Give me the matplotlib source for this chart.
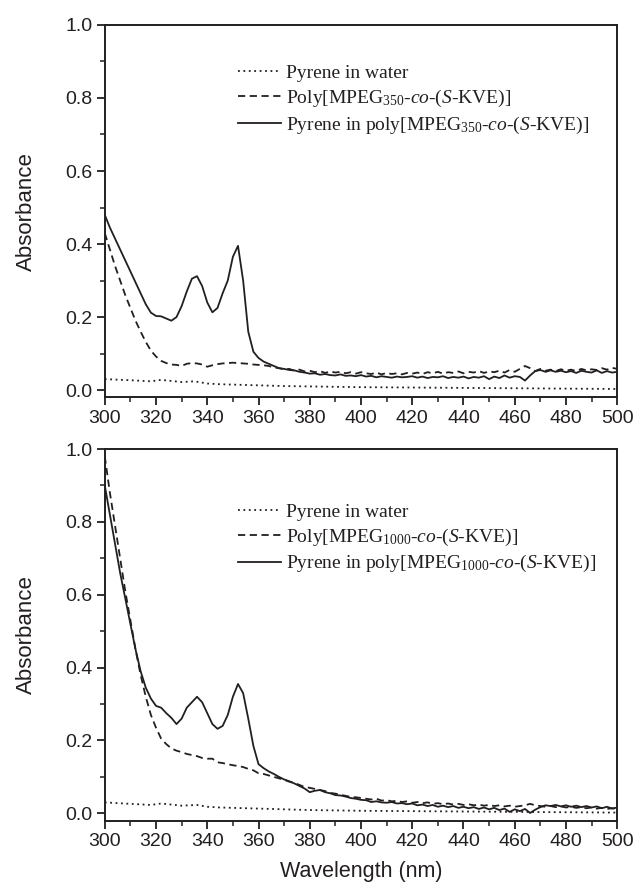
import numpy as np
import matplotlib
matplotlib.use('Agg')
import matplotlib.pyplot as plt
from matplotlib.ticker import MultipleLocator

plt.rcParams['font.family'] = 'Liberation Sans'
plt.rcParams['mathtext.fontset'] = 'custom'
plt.rcParams['mathtext.rm'] = 'Liberation Serif'
plt.rcParams['mathtext.it'] = 'Liberation Serif:italic'

# wavelength grid of the spectra (nm)
wl = np.arange(300, 501, 2)

# --- top panel: MPEG350 ---
top_poly = [
    0.430, 0.385, 0.340, 0.300, 0.260, 0.225, 0.190, 0.160, 0.132, 0.108,
    0.092, 0.080, 0.074, 0.070, 0.069, 0.066, 0.072, 0.074, 0.073, 0.070,
    0.064, 0.068, 0.071, 0.073, 0.074, 0.075, 0.074, 0.073, 0.072, 0.070,
    0.069, 0.068, 0.066, 0.062, 0.060, 0.057, 0.058, 0.053, 0.056, 0.051,
    0.053, 0.049, 0.052, 0.047, 0.051, 0.048, 0.050, 0.046, 0.049, 0.045,
    0.049, 0.046, 0.044, 0.048, 0.043, 0.047, 0.044, 0.046, 0.043, 0.047,
    0.045, 0.048, 0.044, 0.049, 0.046, 0.050, 0.045, 0.049, 0.047, 0.051,
    0.046, 0.050, 0.048, 0.052, 0.047, 0.051, 0.049, 0.053, 0.048, 0.055,
    0.050, 0.058, 0.066, 0.060, 0.052, 0.058, 0.053, 0.056, 0.052, 0.057,
    0.053, 0.056, 0.052, 0.058, 0.054, 0.057, 0.055, 0.060, 0.056, 0.061,
    0.058]
top_pyr_poly = [
    0.480, 0.445, 0.415, 0.385, 0.355, 0.325, 0.295, 0.265, 0.235, 0.212,
    0.203, 0.202, 0.196, 0.190, 0.200, 0.230, 0.270, 0.305, 0.312, 0.285,
    0.240, 0.213, 0.225, 0.265, 0.300, 0.365, 0.395, 0.300, 0.160, 0.105,
    0.088, 0.078, 0.072, 0.066, 0.060, 0.058, 0.055, 0.054, 0.050, 0.048,
    0.045, 0.046, 0.042, 0.044, 0.041, 0.040, 0.043, 0.039, 0.040, 0.038,
    0.041, 0.037, 0.039, 0.035, 0.038, 0.036, 0.034, 0.037, 0.035, 0.036,
    0.038, 0.034, 0.037, 0.033, 0.036, 0.035, 0.038, 0.033, 0.036, 0.034,
    0.037, 0.032, 0.036, 0.034, 0.038, 0.030, 0.037, 0.033, 0.040, 0.034,
    0.038, 0.036, 0.026, 0.040, 0.052, 0.055, 0.050, 0.054, 0.050, 0.053,
    0.049, 0.052, 0.047, 0.053, 0.050, 0.048, 0.054, 0.047, 0.052, 0.048,
    0.050]
top_water_wl = [300, 310, 318, 322, 326, 330, 335, 340, 345, 350, 360, 370,
                380, 400, 420, 440, 460, 480, 500]
top_water = [0.030, 0.027, 0.024, 0.028, 0.025, 0.022, 0.024, 0.018, 0.016,
             0.015, 0.013, 0.011, 0.010, 0.008, 0.007, 0.006, 0.005, 0.004, 0.003]

# --- bottom panel: MPEG1000 ---
bot_poly = [
    0.980, 0.880, 0.790, 0.700, 0.610, 0.530, 0.450, 0.380, 0.320, 0.270,
    0.235, 0.205, 0.190, 0.178, 0.172, 0.168, 0.163, 0.160, 0.157, 0.152,
    0.150, 0.150, 0.140, 0.138, 0.135, 0.132, 0.130, 0.127, 0.122, 0.118,
    0.110, 0.108, 0.104, 0.100, 0.096, 0.092, 0.087, 0.083, 0.078, 0.072,
    0.070, 0.067, 0.064, 0.061, 0.056, 0.054, 0.051, 0.048, 0.045, 0.044,
    0.042, 0.040, 0.038, 0.040, 0.035, 0.036, 0.033, 0.034, 0.031, 0.033,
    0.029, 0.031, 0.028, 0.030, 0.026, 0.028, 0.025, 0.027, 0.024, 0.026,
    0.023, 0.025, 0.022, 0.024, 0.021, 0.023, 0.020, 0.022, 0.019, 0.021,
    0.018, 0.020, 0.022, 0.026, 0.022, 0.020, 0.018, 0.020, 0.017, 0.019,
    0.016, 0.018, 0.015, 0.017, 0.014, 0.016, 0.013, 0.015, 0.012, 0.014,
    0.012]
bot_pyr_poly = [
    0.900, 0.820, 0.740, 0.660, 0.590, 0.520, 0.450, 0.390, 0.345, 0.315,
    0.295, 0.290, 0.275, 0.262, 0.245, 0.260, 0.290, 0.305, 0.320, 0.305,
    0.275, 0.245, 0.232, 0.240, 0.270, 0.320, 0.355, 0.330, 0.260, 0.185,
    0.135, 0.124, 0.115, 0.108, 0.100, 0.093, 0.088, 0.082, 0.075, 0.068,
    0.058, 0.062, 0.064, 0.058, 0.055, 0.050, 0.049, 0.046, 0.042, 0.040,
    0.037, 0.036, 0.031, 0.033, 0.030, 0.029, 0.031, 0.027, 0.028, 0.025,
    0.027, 0.022, 0.024, 0.020, 0.023, 0.018, 0.021, 0.017, 0.020, 0.015,
    0.018, 0.014, 0.017, 0.012, 0.016, 0.011, 0.015, 0.009, 0.013, 0.004,
    0.011, 0.006, 0.012, 0.001, 0.010, 0.017, 0.022, 0.020, 0.023, 0.019,
    0.022, 0.018, 0.021, 0.017, 0.020, 0.016, 0.019, 0.014, 0.018, 0.013,
    0.016]
bot_water_wl = [300, 310, 318, 322, 326, 330, 336, 340, 345, 350, 360, 370,
                380, 400, 420, 440, 460, 480, 500]
bot_water = [0.030, 0.026, 0.023, 0.027, 0.024, 0.021, 0.023, 0.018, 0.016,
             0.015, 0.013, 0.011, 0.009, 0.007, 0.006, 0.005, 0.004, 0.003, 0.002]

panels = [
    (top_water_wl, top_water, top_poly, top_pyr_poly, '350', 0.895),
    (bot_water_wl, bot_water, bot_poly, bot_pyr_poly, '1000', 0.855),
]

ink = '#231f20'
fig = plt.figure(figsize=(6.35, 8.91), dpi=100)
axes = [fig.add_axes([0.165, 0.554, 0.807, 0.418]),
        fig.add_axes([0.165, 0.079, 0.807, 0.417])]

for ax, (wwl, water, poly, pyr, mw, leg_y) in zip(axes, panels):
    ax.plot(wwl, water, color=ink, lw=1.3, ls=(0, (1, 2)),
            label='Pyrene in water')
    ax.plot(wl, poly, color=ink, lw=1.3, ls=(0, (4, 2.5)),
            label='Poly[MPEG$_{' + mw + '}$-$co$-($S$-KVE)]')
    ax.plot(wl, pyr, color=ink, lw=1.3, ls='-',
            label='Pyrene in poly[MPEG$_{' + mw + '}$-$co$-($S$-KVE)]')
    ax.set_xlim(300, 500)
    ax.set_ylim(-0.02, 1.0)
    ax.xaxis.set_major_locator(MultipleLocator(20))
    ax.xaxis.set_minor_locator(MultipleLocator(10))
    ax.yaxis.set_major_locator(MultipleLocator(0.2))
    ax.yaxis.set_minor_locator(MultipleLocator(0.1))
    ax.yaxis.set_major_formatter(matplotlib.ticker.FormatStrFormatter('%.1f'))
    ax.tick_params(which='major', direction='out', length=6, width=1.3,
                   labelsize=14, colors=ink, pad=3)
    ax.tick_params(which='minor', direction='out', length=3.5, width=1.1,
                   colors=ink)
    for s in ax.spines.values():
        s.set_linewidth(1.4)
        s.set_color(ink)
    ax.set_ylabel('Absorbance', fontsize=16, color=ink, labelpad=20)
    leg = ax.legend(loc='upper left', bbox_to_anchor=(0.26, leg_y),
                    frameon=False, handlelength=2.2, handletextpad=0.25,
                    labelspacing=0.3, borderpad=0, borderaxespad=0,
                    prop={'family': 'Liberation Serif', 'size': 14})
    for t in leg.get_texts():
        t.set_color(ink)

axes[1].set_xlabel('Wavelength (nm)', fontsize=15.5, color=ink, labelpad=8)

fig.savefig('out.png', dpi=100)
